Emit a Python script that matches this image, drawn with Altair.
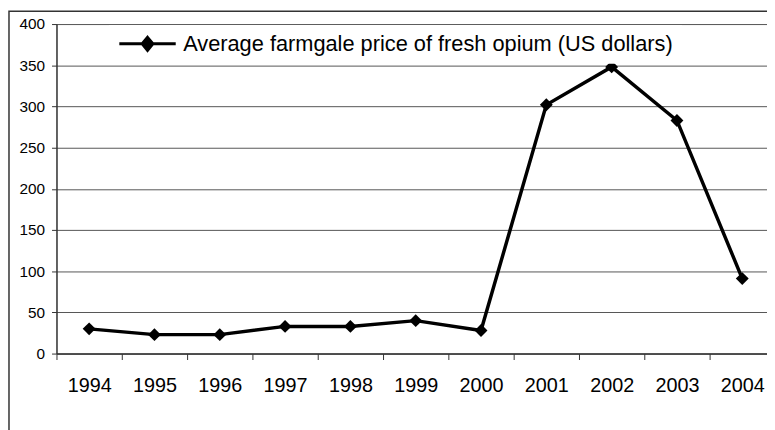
import altair as alt
import pandas as pd

# ---- data ----
years = ["1994", "1995", "1996", "1997", "1998", "1999", "2000", "2001", "2002", "2003", "2004"]
prices = [30, 23, 23, 33, 33, 40, 28, 302, 348, 283, 91]
series_name = "Average farmgale price of fresh opium (US dollars)"
y_ticks = [0, 50, 100, 150, 200, 250, 300, 350, 400]

df = pd.DataFrame({"year": years, "price": prices, "series": [series_name] * len(years)})

FONT = "Liberation Sans"
LEGEND_PATH = "M-1,0H1M0,-0.23L0.19,0L0,0.23L-0.19,0Z"

x_enc = alt.X(
    "year:O",
    sort=years,
    scale=alt.Scale(type="band", range=[0, 726], paddingInner=0, paddingOuter=0),
    axis=alt.Axis(
        title=None, labelAngle=0, tickBand="extent", tickSize=6, tickColor="#333",
        domainColor="#333", domainWidth=1.5, grid=False,
        labelFont=FONT, labelFontSize=20, labelColor="black", labelPadding=16,
    ),
)
y_enc = alt.Y(
    "price:Q",
    scale=alt.Scale(domain=[0, 400], nice=False),
    axis=alt.Axis(
        title=None, values=y_ticks, grid=True, gridColor="#555", gridWidth=1,
        domainColor="#333", domainWidth=1.5, tickColor="#333", tickSize=5,
        labelFont=FONT, labelFontSize=15.5, labelColor="black", labelPadding=7,
    ),
)

line = alt.Chart(df).mark_line(strokeWidth=3.5).encode(
    x=x_enc,
    y=y_enc,
    color=alt.Color(
        "series:N",
        scale=alt.Scale(range=["black"]),
        legend=alt.Legend(
            title=None, orient="none", legendX=53, legendY=1, padding=9,
            clipHeight=20, fillColor="white", symbolType=LEGEND_PATH,
            symbolSize=3249, symbolStrokeWidth=3, symbolFillColor="black",
            symbolStrokeColor="black", labelFont=FONT, labelFontSize=22,
            labelColor="black", labelOffset=6, labelLimit=700,
        ),
    ),
)

points = alt.Chart(df).mark_point(
    shape="diamond", filled=True, size=170, color="black", opacity=1
).encode(x=x_enc, y=y_enc)

frame = alt.Chart(pd.DataFrame({"k": [0]})).mark_rect(
    fill="transparent", stroke="#333", strokeWidth=1.5, clip=False
).encode(
    x=alt.value(-48), x2=alt.value(760), y=alt.value(-13), y2=alt.value(500)
)

chart = alt.layer(line, points, frame).properties(
    width=718,
    height=333,
    autosize=alt.AutoSizeParams(type="none"),
    padding={"left": 49, "top": 14, "right": 0, "bottom": 75},
).configure_view(stroke=None).configure(background="white")

chart.save("out.html", embed_options={"renderer": "svg", "actions": False})
